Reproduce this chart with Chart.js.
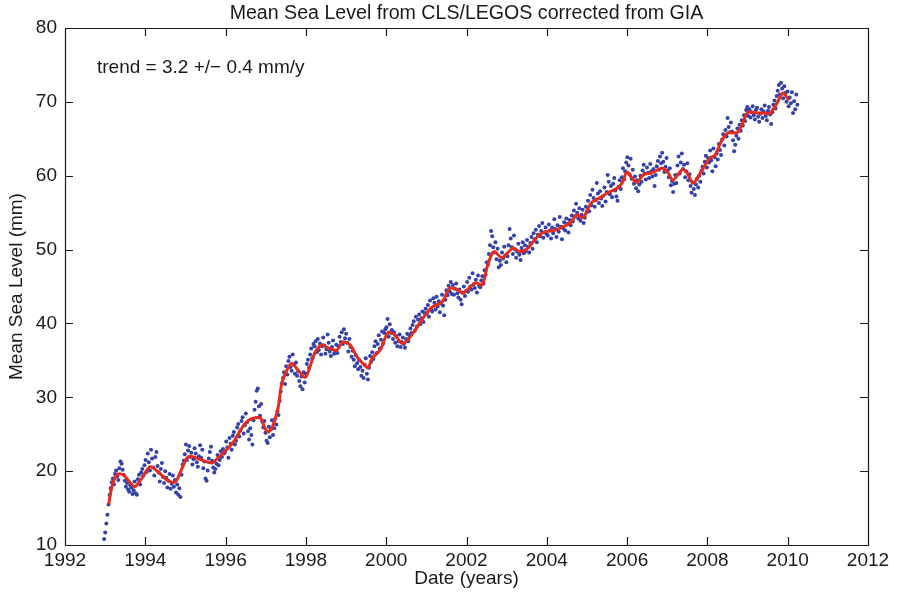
<!DOCTYPE html>
<html>
<head>
<meta charset="utf-8">
<script src="https://cdn.jsdelivr.net/npm/chart.js@4.4.0/dist/chart.umd.min.js"></script>
<style>
  html, body { margin: 0; padding: 0; background: #ffffff; }
  #c { display: block; }
</style>
</head>
<body>
<canvas id="c" width="898" height="597"></canvas>
<script>
// Axis ticks
const xTicks = [1992, 1994, 1996, 1998, 2000, 2002, 2004, 2006, 2008, 2010, 2012];
const yTicks = [10, 20, 30, 40, 50, 60, 70, 80];

// Altimetry cycles: one value every ~9.9156 days starting late 1992
const cycleStart = 1992.975;
const cycleDays = 9.9156;

// Mean sea level per cycle (mm), one row per year
const blueLevels = [
  // 1993
  10.8, 11.7, 12.9, 14.1, 15.5, 16.8, 17.7, 18.5, 19.0, 18.2, 19.6, 20.1, 19.3, 18.8, 20.4, 21.3, 21.0,
  20.2, 19.5, 18.7, 17.9, 18.4, 17.5, 17.2, 18.1, 17.8, 16.9, 17.4, 18.6, 17.0, 16.8, 18.9, 19.5, 18.2, 19.8, 20.3, 19.4,
  // 1994
  20.8, 21.5, 19.9, 22.4, 21.2, 20.1, 22.9, 21.7, 20.5, 19.4, 21.9, 22.6, 20.7, 19.8, 18.6, 20.3, 21.1, 19.2, 18.4, 20.0,
  19.1, 17.8, 18.7, 19.6, 17.6, 18.3, 19.4, 17.9, 18.8, 17.1, 18.2, 16.8, 17.7, 16.5, 19.5, 20.9, 21.4,
  // 1995
  22.3, 23.6, 21.5, 22.8, 23.4, 21.9, 22.5, 20.9, 21.6, 23.1, 22.4, 21.2, 20.6, 22.0, 23.5, 21.8, 22.9, 20.4, 21.3, 19.0,
  18.7, 20.1, 21.7, 22.6, 23.3, 21.4, 20.5, 19.8, 20.3, 21.0, 22.2, 20.8, 21.5, 22.7, 21.9, 23.0, 22.4,
  // 1996
  22.6, 24.0, 23.2, 21.8, 24.5, 23.7, 22.9, 24.8, 25.3, 23.6, 24.1, 25.9, 26.4, 24.7, 25.5, 26.8, 27.3, 25.1, 26.2, 27.8,
  26.6, 25.4, 24.3, 25.8, 24.9, 23.6, 26.9, 28.3, 29.4, 30.9, 31.2, 28.8, 27.5, 29.1, 26.7, 25.9, 26.8,
  // 1997
  25.2, 24.1, 23.8, 26.0, 24.6, 25.7, 26.9, 24.9, 25.8, 27.1, 26.3, 28.1, 27.6, 29.5, 30.8, 31.9, 32.6, 33.4, 31.8, 34.2,
  33.1, 34.9, 35.5, 34.1, 33.6, 35.8, 34.4, 33.2, 34.7, 32.9, 33.5, 32.2, 31.5, 32.8, 31.1, 33.4, 32.0,
  // 1998
  33.2, 34.5, 35.1, 34.0, 35.8, 36.6, 35.3, 37.2, 36.9, 37.6, 36.1, 37.9, 36.4, 37.3, 35.8, 36.9, 38.1, 37.0, 35.9, 36.5,
  38.5, 37.4, 36.2, 35.6, 36.8, 37.7, 35.9, 36.3, 37.1, 36.0, 36.9, 38.2, 37.5, 38.8, 37.2, 39.2, 38.0,
  // 1999
  38.6, 37.4, 36.2, 37.9, 36.8, 35.5, 36.3, 35.1, 34.2, 35.7, 34.6, 33.8, 35.0, 34.1, 32.9, 33.6, 32.6, 34.4, 35.3, 33.2,
  32.4, 34.0, 35.6, 34.8, 36.1, 35.2, 36.9, 37.6, 36.0, 37.2, 38.4, 36.6, 37.8, 38.9, 37.3, 38.7, 39.2,
  // 2000
  39.5, 40.6, 38.2, 39.9, 38.7, 39.1, 37.9, 38.8, 37.4, 38.3, 36.9, 37.6, 38.5, 36.8, 37.5, 38.1, 37.2, 36.7, 37.9, 38.6,
  37.6, 38.4, 39.3, 38.7, 39.8, 40.3, 39.0, 40.9, 39.6, 40.5, 41.2, 39.9, 40.7, 41.6, 40.2, 41.4, 42.0,
  // 2001
  41.3, 42.5, 40.9, 43.1, 42.0, 41.6, 43.4, 42.8, 41.9, 43.6, 42.3, 43.0, 41.5, 42.7, 43.9, 42.4, 41.1, 43.2, 44.5, 43.8,
  45.1, 44.3, 45.6, 44.0, 45.2, 43.9, 44.7, 45.4, 44.1, 43.5, 44.6, 43.2, 42.6, 44.2, 45.0, 43.7, 44.4,
  // 2002
  45.6, 44.3, 46.2, 45.0, 44.6, 46.8, 45.3, 44.8, 45.9, 44.2, 46.5, 45.1, 44.9, 45.8, 46.4, 45.4, 47.2, 46.6, 48.3, 47.9,
  49.4, 50.6, 52.5, 51.8, 50.3, 49.6, 51.0, 48.7, 50.1, 47.6, 48.5, 47.9, 49.6, 48.8, 50.4, 49.2, 48.3,
  // 2003
  49.1, 50.6, 52.8, 51.5, 50.3, 49.4, 51.9, 50.0, 48.9, 49.7, 50.8, 49.3, 48.6, 50.2, 51.0, 49.5, 50.6, 49.8, 51.3, 50.4,
  49.6, 50.9, 51.7, 50.1, 52.2, 51.4, 52.7, 51.0, 52.0, 53.2, 51.8, 52.5, 53.6, 51.6, 52.3, 53.0, 52.1,
  // 2004
  51.9, 53.4, 52.6, 51.5, 53.0, 52.2, 54.1, 52.8, 51.7, 53.3, 52.4, 54.4, 53.1, 51.4, 52.9, 53.7, 52.6, 54.2, 53.5, 52.3,
  54.0, 53.3, 54.6, 53.8, 55.3, 54.5, 56.2, 55.0, 54.2, 55.6, 53.9, 54.7, 55.4, 53.6, 54.3, 55.8, 55.1,
  // 2005
  56.6, 55.2, 57.4, 56.0, 58.1, 57.0, 55.8, 56.7, 59.0, 57.6, 56.3, 57.9, 56.9, 55.9, 57.3, 58.4, 56.5, 57.8, 60.1, 59.2,
  57.5, 58.6, 57.1, 58.9, 59.7, 58.0, 57.2, 56.6, 58.5, 59.4, 58.2, 59.8, 61.0, 59.5, 60.6, 61.8, 62.5,
  // 2006
  61.4, 60.2, 62.3, 59.6, 60.8, 58.9, 59.9, 58.3, 59.4, 57.9, 58.8, 60.0, 59.2, 60.7, 61.5, 60.3, 59.5, 61.1, 60.4, 59.7,
  61.6, 60.6, 59.9, 60.9, 58.6, 60.1, 61.3, 62.0, 60.8, 62.6, 61.7, 63.1, 61.9, 60.5, 61.2, 62.4, 60.7,
  // 2007
  59.8, 61.0, 58.7, 59.3, 57.8, 58.9, 60.1, 59.0, 61.4, 62.6, 60.3, 61.8, 63.0, 60.9, 61.5, 59.8, 60.6, 61.7, 59.4, 60.2,
  58.6, 57.7, 59.1, 58.2, 57.4, 58.8, 59.6, 58.4, 60.0, 59.2, 60.7, 61.2, 60.3, 61.9, 62.7, 61.1, 62.4,
  // 2008
  61.8, 63.4, 62.1, 60.6, 63.7, 62.5, 61.3, 63.0, 62.2, 64.3, 63.5, 62.8, 64.9, 65.6, 64.1, 66.2, 65.3, 67.8, 66.6, 65.9,
  67.2, 66.0, 64.8, 63.3, 64.2, 65.4, 66.4, 65.0, 66.9, 66.1, 67.5, 66.8, 68.2, 67.4, 68.9, 69.3, 68.1,
  // 2009
  69.0, 67.9, 68.6, 69.4, 68.2, 67.6, 68.9, 69.2, 68.0, 67.3, 68.4, 69.0, 67.8, 68.7, 69.5, 68.1, 67.5, 68.8, 69.3, 68.3,
  67.0, 68.6, 69.6, 70.2, 69.1, 70.8, 71.5, 72.3, 71.0, 72.6, 71.8, 70.5, 72.1, 71.2, 70.0, 71.4, 69.4,
  // 2010
  70.6, 69.8, 71.3, 68.5, 70.1, 69.0, 71.0, 69.6
];

// Smoothed mean sea level (mm)
const smoothYears = [
  1993.09, 1993.15, 1993.22, 1993.32, 1993.45, 1993.60, 1993.74, 1993.92,
  1994.12, 1994.32, 1994.54, 1994.74, 1994.86, 1995.04, 1995.16, 1995.41, 1995.66, 1995.81,
  1996.06, 1996.23, 1996.41, 1996.61, 1996.86, 1996.98, 1997.06, 1997.18, 1997.31, 1997.40,
  1997.53, 1997.65, 1997.80, 1997.98, 1998.10, 1998.23, 1998.40, 1998.55, 1998.77, 1998.92,
  1999.10, 1999.27, 1999.47, 1999.55, 1999.65, 1999.85, 2000.05, 2000.22, 2000.39, 2000.54,
  2000.72, 2000.89, 2001.14, 2001.39, 2001.59, 2001.79, 2001.91, 2002.09, 2002.23, 2002.39,
  2002.51, 2002.64, 2002.71, 2002.88, 2003.16, 2003.33, 2003.53, 2003.76, 2003.95, 2004.20,
  2004.40, 2004.58, 2004.75, 2004.90, 2005.03, 2005.12, 2005.32, 2005.52, 2005.75, 2005.87,
  2006.00, 2006.12, 2006.25, 2006.40, 2006.62, 2006.87, 2007.02, 2007.14, 2007.37, 2007.49,
  2007.64, 2007.77, 2007.94, 2008.06, 2008.19, 2008.36, 2008.51, 2008.64, 2008.76, 2008.89,
  2009.01, 2009.23, 2009.38, 2009.56, 2009.73, 2009.88, 2010.03
];
const smoothLevels = [
  15.5, 17.5, 18.8, 19.6, 19.5, 18.6, 17.9, 19.1,
  20.6, 19.9, 18.8, 18.5, 19.7, 21.8, 22.0, 21.5, 21.1, 21.8,
  23.1, 24.2, 25.9, 27.0, 27.2, 25.8, 25.3, 26.2, 28.7, 31.9,
  33.7, 34.6, 33.7, 32.7, 34.1, 36.1, 37.1, 36.7, 36.4, 37.5,
  37.1, 35.5, 34.3, 34.0, 35.3, 36.4, 38.8, 38.4, 37.3, 37.8,
  39.1, 40.5, 42.2, 42.9, 44.8, 44.5, 44.1, 44.9, 45.5, 45.2,
  47.6, 49.5, 49.7, 48.9, 50.2, 49.7, 50.2, 51.7, 52.4, 52.6,
  53.1, 53.6, 54.7, 54.3, 55.6, 56.4, 57.0, 57.7, 58.3, 59.0,
  60.5, 59.7, 59.1, 60.1, 60.4, 61.0, 60.4, 59.4, 60.8, 60.4,
  59.0, 59.9, 61.4, 62.4, 62.8, 64.8, 65.8, 65.8, 65.9, 67.3,
  68.6, 68.5, 68.5, 68.5, 69.8, 71.2, 70.2
];

const chartTitle = 'Mean Sea Level from CLS/LEGOS corrected from GIA';
const xAxisTitle = 'Date (years)';
const yAxisTitle = 'Mean Sea Level (mm)';
const trendNote = 'trend = 3.2 +/\u2212 0.4 mm/y';

const FONT = "'Liberation Sans', Arial, Helvetica, sans-serif";
const INK = '#1a1a1a';

const cyclePoints = blueLevels.map((v, i) => ({ x: cycleStart + i * cycleDays / 365.25, y: v }));
const smoothPoints = smoothYears.map((t, i) => ({ x: t, y: smoothLevels[i] }));

// Box frame with inward tick marks on all four sides, plus the trend note
const framePlugin = {
  id: 'frame',
  afterDraw(chart) {
    const { ctx, chartArea: a, scales } = chart;
    const len = 8;
    ctx.save();
    ctx.strokeStyle = INK;
    ctx.lineWidth = 1.2;
    ctx.beginPath();
    ctx.rect(Math.round(a.left) + 0.5, Math.round(a.top) + 0.5,
             Math.round(a.right - a.left), Math.round(a.bottom - a.top));
    xTicks.forEach(v => {
      const px = Math.round(scales.x.getPixelForValue(v)) + 0.5;
      ctx.moveTo(px, a.bottom); ctx.lineTo(px, a.bottom - len);
      ctx.moveTo(px, a.top); ctx.lineTo(px, a.top + len);
    });
    yTicks.forEach(v => {
      const py = Math.round(scales.y.getPixelForValue(v)) + 0.5;
      ctx.moveTo(a.left, py); ctx.lineTo(a.left + len, py);
      ctx.moveTo(a.right, py); ctx.lineTo(a.right - len, py);
    });
    ctx.stroke();

    ctx.fillStyle = INK;
    ctx.font = '19px ' + FONT;
    ctx.textAlign = 'left';
    ctx.textBaseline = 'alphabetic';
    ctx.fillText(trendNote, a.left + 32, a.top + 45);
    ctx.restore();
  }
};

new Chart(document.getElementById('c').getContext('2d'), {
  type: 'scatter',
  data: {
    datasets: [
      {
        label: 'Smoothed',
        data: smoothPoints,
        showLine: true,
        borderColor: '#e52b1c',
        borderWidth: 3,
        pointRadius: 0,
        tension: 0.3,
        order: 0
      },
      {
        label: 'Cycle values',
        data: cyclePoints,
        showLine: false,
        pointRadius: 2,
        pointBackgroundColor: '#3341a8',
        pointBorderWidth: 0,
        order: 1
      }
    ]
  },
  options: {
    responsive: false,
    animation: false,
    devicePixelRatio: 1,
    layout: { padding: { left: 0, right: 30, top: 0, bottom: 0 } },
    plugins: {
      legend: { display: false },
      tooltip: { enabled: false },
      title: {
        display: true,
        text: chartTitle,
        fullSize: false,
        color: INK,
        font: { family: FONT, size: 19.6, weight: 'normal', lineHeight: 1.2 },
        padding: { top: 1.5, bottom: 3 }
      }
    },
    scales: {
      x: {
        type: 'linear',
        min: 1992,
        max: 2012,
        afterBuildTicks: s => { s.ticks = xTicks.map(v => ({ value: v })); },
        afterFit: s => { s.height = 52; },
        grid: { display: false, drawTicks: false },
        border: { display: false },
        ticks: {
          autoSkip: false, maxRotation: 0, padding: 4, color: INK,
          font: { family: FONT, size: 19 },
          callback: v => String(v)
        },
        title: {
          display: true, text: xAxisTitle, color: INK,
          font: { family: FONT, size: 19, lineHeight: 1.2 },
          padding: { top: 0, bottom: 7 }
        }
      },
      y: {
        type: 'linear',
        min: 10,
        max: 80,
        afterBuildTicks: s => { s.ticks = yTicks.map(v => ({ value: v })); },
        afterFit: s => { s.width = 65; },
        grid: { display: false, drawTicks: false },
        border: { display: false },
        ticks: {
          autoSkip: false, padding: 8, color: INK,
          font: { family: FONT, size: 19 },
          callback: v => String(v)
        },
        title: {
          display: true, text: yAxisTitle, color: INK,
          font: { family: FONT, size: 19, lineHeight: 1.2 },
          padding: { top: 5, bottom: 0 }
        }
      }
    }
  },
  plugins: [framePlugin]
});
</script>
</body>
</html>
